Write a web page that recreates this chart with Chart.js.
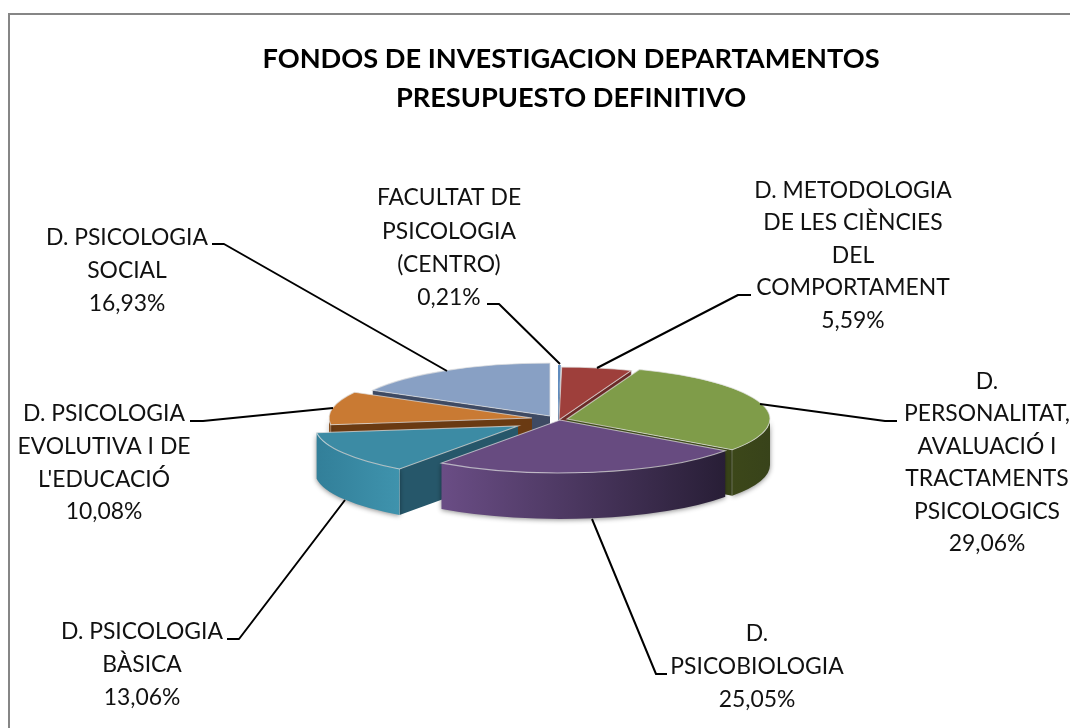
<!DOCTYPE html>
<html><head><meta charset="utf-8">
<style>html,body{margin:0;padding:0;background:#fff}canvas{display:block}</style>
<script src="https://cdn.jsdelivr.net/npm/chart.js@4"></script>
</head><body><canvas id="c" width="1070" height="728"></canvas>
<script>
const titleLines = ['FONDOS DE INVESTIGACION DEPARTAMENTOS','PRESUPUESTO DEFINITIVO'];
const categoryLines = [
  ['FACULTAT DE','PSICOLOGIA','(CENTRO)'],
  ['D. METODOLOGIA','DE LES CIÈNCIES','DEL','COMPORTAMENT'],
  ['D.','PERSONALITAT,','AVALUACIÓ I','TRACTAMENTS','PSICOLOGICS'],
  ['D.','PSICOBIOLOGIA'],
  ['D. PSICOLOGIA','BÀSICA'],
  ['D. PSICOLOGIA','EVOLUTIVA I DE',"L'EDUCACIÓ"],
  ['D. PSICOLOGIA','SOCIAL']
];
const categories = categoryLines.map(l => l.join(' '));
const values = [0.21, 5.59, 29.06, 25.05, 13.06, 10.08, 16.93];

const topColors  = ['#5f8bbd','#9e3f3b','#7f9c49','#674b80','#3c8ba4','#c97a33','#88a0c4'];
const faceColors = ['#4a6a90','#6b2a27','#3c4719','#3a2a4a','#26576a','#6a3a12','#3e4a63'];
const wallStops  = [
  ['#4a6a90','#4a6a90'],['#6b2a27','#6b2a27'],['#3c4719','#38431a'],
  ['#6a4d85','#281e36'],['#327f99','#3f93ad'],['#8a5020','#8a5020'],['#3e4a63','#3e4a63']
];
// Layout of the oblique view (screen px)
const view = {cx:555, cy:419, squash:0.261, depth:46, radius:203};
const explode = [[3,-1],[4,1],[12,0],[5,1],[-37,7],[-23,-1],[-5,-3]];
const labelCenters = [
  {x:449, y:[198,232,265,298]},
  {x:853, y:[191,223,256,288,321]},
  {x:987, y:[382,414,447,479,512,544]},
  {x:757, y:[634,667,700]},
  {x:142, y:[632,665,698]},
  {x:104, y:[414,447,480,512]},
  {x:127, y:[238,271,304]}
];
const leaders = [
  [[487,304],[499,304],[560,364]],
  [[751,295],[738,295],[597,368]],
  [[897,421],[885,421],[760,404]],
  [[667,674],[656,674],[592,519]],
  [[227,639],[239,639],[345,500]],
  [[190,421],[203,421],[333,408]],
  [[212,244],[224,244],[447,371]]
];

const FONT = 'Lato, "Open Sans", sans-serif';
const pct = v => v.toFixed(2).replace('.',',') + '%';

const pie3d = {
  id:'pie3d',
  beforeDraw(chart){
    const c = chart.ctx;
    c.save();
    c.strokeStyle = '#868686'; c.lineWidth = 2;
    c.beginPath(); c.moveTo(9,728); c.lineTo(9,14); c.lineTo(1070,14); c.stroke();
    c.restore();
  },
  beforeDatasetsDraw(chart){
    const c = chart.ctx, arcs = chart.getDatasetMeta(0).data;
    const k = view.squash, d = view.depth;
    const order = arcs.map((a,i)=>i).sort((i,j)=>
      Math.sin((arcs[i].startAngle+arcs[i].endAngle)/2) - Math.sin((arcs[j].startAngle+arcs[j].endAngle)/2));
    order.forEach(i=>{
      const a = arcs[i], R = a.outerRadius;
      const Cx = view.cx + explode[i][0], Cy = view.cy + explode[i][1];
      const P = t => [Cx + R*Math.cos(t), Cy + R*k*Math.sin(t)];
      const face = t => {
        const p = P(t);
        c.save();
        c.fillStyle = faceColors[i];
        c.strokeStyle = 'rgba(225,225,225,0.75)'; c.lineWidth = 1;
        c.beginPath(); c.moveTo(Cx,Cy); c.lineTo(p[0],p[1]); c.lineTo(p[0],p[1]+d); c.lineTo(Cx,Cy+d); c.closePath();
        c.fill();
        c.beginPath(); c.moveTo(p[0],p[1]); c.lineTo(p[0],p[1]+d); c.stroke();
        c.restore();
      };
      if (Math.cos(a.startAngle) < 0) face(a.startAngle);
      if (Math.cos(a.endAngle) > 0) face(a.endAngle);
      const s = Math.max(a.startAngle,0), e = Math.min(a.endAngle,Math.PI);
      if (e > s) {
        const p0 = P(s), p1 = P(e);
        const g = c.createLinearGradient(p1[0],0,p0[0],0);
        g.addColorStop(0,wallStops[i][0]); g.addColorStop(1,wallStops[i][1]);
        c.save();
        c.shadowColor = 'rgba(0,0,0,0.45)'; c.shadowBlur = 5; c.shadowOffsetY = 1;
        c.fillStyle = g;
        c.beginPath();
        c.ellipse(Cx,Cy,R,R*k,0,s,e);
        c.ellipse(Cx,Cy+d,R,R*k,0,e,s,true);
        c.closePath(); c.fill();
        c.restore();
      }
      // top face: the library's own arc element, squashed into the oblique plane
      c.save();
      c.translate(Cx,Cy); c.scale(1,k); c.translate(-a.x,-a.y);
      a.draw(c);
      c.restore();
      // bevel outline
      c.save();
      c.strokeStyle = 'rgba(225,225,225,0.7)'; c.lineWidth = 1.1;
      if (i > 0) {
        c.beginPath();
        c.moveTo(Cx,Cy);
        c.ellipse(Cx,Cy,R,R*k,0,a.startAngle,a.endAngle);
        c.closePath(); c.stroke();
      }
      c.restore();
    });
    return false;
  },
  afterDraw(chart){
    const c = chart.ctx;
    c.save();
    c.strokeStyle = '#000'; c.lineWidth = 2; c.lineJoin = 'round';
    leaders.forEach(l=>{
      c.beginPath(); c.moveTo(l[0][0],l[0][1]); c.lineTo(l[1][0],l[1][1]); c.lineTo(l[2][0],l[2][1]); c.stroke();
    });
    c.fillStyle = '#111'; c.font = '22.9px '+FONT; c.textAlign='center'; c.textBaseline='middle';
    categoryLines.forEach((lines,i)=>{
      const all = lines.concat([pct(values[i])]);
      all.forEach((t,j)=>c.fillText(t,labelCenters[i].x,labelCenters[i].y[j]));
    });
    c.restore();
  }
};

new Chart(document.getElementById('c'),{
  type:'pie',
  data:{labels:categories,datasets:[{data:values,backgroundColor:topColors,borderWidth:0,radius:view.radius}]},
  options:{
    responsive:false,animation:false,
    layout:{padding:{left:72,top:40,right:0,bottom:0}},
    plugins:{
      legend:{display:false},tooltip:{enabled:false},
      title:{display:true,text:titleLines,color:'#000',font:{family:FONT,size:27.2,weight:'bold',lineHeight:1.43},padding:{top:0,bottom:10}}
    }
  },
  plugins:[pie3d]
});
</script></body></html>
